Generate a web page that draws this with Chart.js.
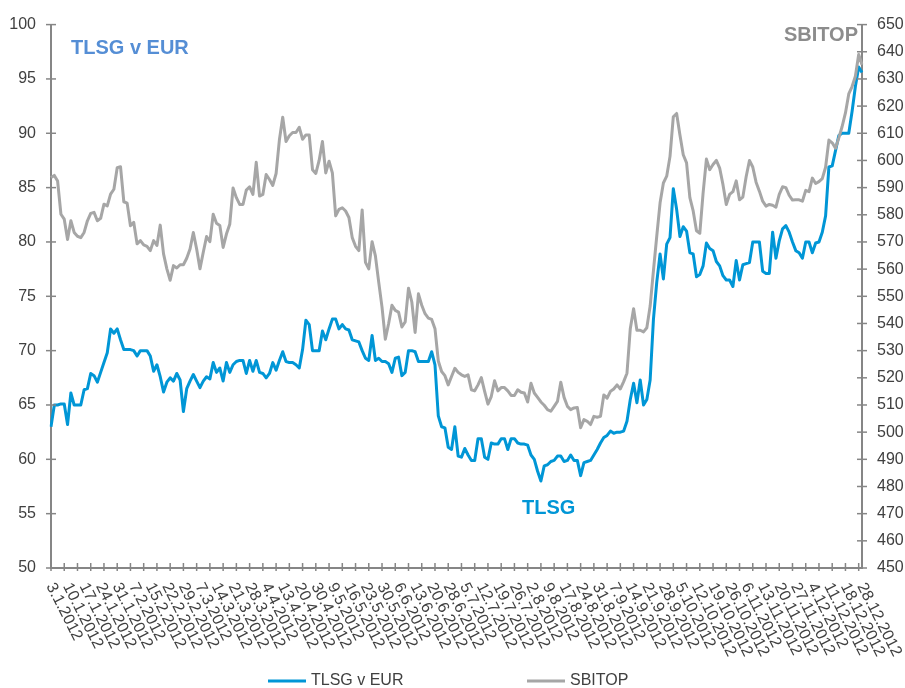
<!DOCTYPE html>
<html>
<head>
<meta charset="utf-8">
<title>TLSG v EUR in SBITOP 2012</title>
<script src="https://cdn.jsdelivr.net/npm/chart.js@4.4.1/dist/chart.umd.min.js"></script>
<style>
  body { margin: 0; background: #fff; }
  #graf { display: block; }
</style>
</head>
<body>
<canvas id="graf" width="905" height="688"></canvas>
<script>
// datumi na os x (vsak 5. trgovalni dan)
let tedni = [
    "3.1.2012", "10.1.2012", "17.1.2012", "24.1.2012", "31.1.2012", "7.2.2012", "15.2.2012", "22.2.2012",
    "29.2.2012", "7.3.2012", "14.3.2012", "21.3.2012", "28.3.2012", "4.4.2012", "13.4.2012", "20.4.2012",
    "30.4.2012", "9.5.2012", "16.5.2012", "23.5.2012", "30.5.2012", "6.6.2012", "13.6.2012", "20.6.2012",
    "28.6.2012", "5.7.2012", "12.7.2012", "19.7.2012", "26.7.2012", "2.8.2012", "9.8.2012", "17.8.2012",
    "24.8.2012", "31.8.2012", "7.9.2012", "14.9.2012", "21.9.2012", "28.9.2012", "5.10.2012", "12.10.2012",
    "19.10.2012", "26.10.2012", "6.11.2012", "13.11.2012", "20.11.2012", "27.11.2012", "4.12.2012", "11.12.2012",
    "18.12.2012", "28.12.2012"
];

// TLSG v EUR, dnevni tecaj
let tlsg = [
    63.0, 65.0, 65.0, 65.1, 65.1, 63.2, 66.1, 65.0, 65.0, 65.0,
    66.4, 66.5, 67.9, 67.7, 67.1, 68.0, 68.9, 69.8, 72.0, 71.6,
    72.0, 71.0, 70.1, 70.1, 70.1, 70.0, 69.5, 70.0, 70.0, 70.0,
    69.5, 68.1, 68.7, 67.6, 66.2, 67.1, 67.5, 67.2, 67.9, 67.3,
    64.4, 66.5, 67.2, 67.8, 67.2, 66.6, 67.2, 67.6, 67.4, 68.9,
    68.0, 68.4, 67.2, 68.9, 68.0, 68.7, 69.0, 69.1, 69.1, 67.9,
    69.1, 68.1, 69.1, 68.0, 67.9, 67.5, 67.9, 68.9, 68.2, 69.1,
    69.9, 69.0, 68.9, 68.9, 68.7, 68.4, 70.1, 72.8, 72.4, 70.0,
    70.0, 70.0, 71.8, 71.0, 72.0, 72.9, 72.9, 72.0, 72.4, 72.0,
    71.9, 71.0, 70.9, 70.8, 70.0, 69.3, 69.1, 71.4, 69.1, 69.3,
    69.0, 69.0, 68.8, 68.0, 69.3, 69.4, 67.7, 68.0, 70.0, 70.0,
    69.9, 69.0, 69.0, 69.0, 69.0, 69.9, 68.7, 64.0, 63.0, 62.9,
    61.1, 60.9, 63.0, 60.3, 60.2, 61.0, 60.4, 59.9, 59.9, 61.9,
    61.9, 60.2, 60.0, 61.5, 61.4, 61.4, 61.9, 61.9, 60.9, 61.9,
    61.9, 61.5, 61.4, 61.4, 61.3, 60.4, 60.0, 58.9, 58.0, 59.4,
    59.5, 59.8, 59.9, 60.3, 60.3, 59.8, 59.9, 60.4, 59.9, 59.9,
    58.5, 59.7, 59.8, 59.9, 60.4, 60.9, 61.5, 62.0, 62.2, 62.6,
    62.4, 62.5, 62.5, 62.6, 63.5, 65.5, 67.0, 65.2, 67.3, 65.0,
    65.5, 67.3, 72.9, 76.3, 78.9, 76.6, 79.8, 80.4, 84.9, 83.0,
    80.5, 81.4, 81.0, 79.0, 78.9, 76.8, 77.0, 77.8, 79.9, 79.4,
    79.2, 78.2, 77.8, 76.9, 76.5, 76.5, 75.9, 78.3, 76.5, 77.9,
    78.0, 78.1, 80.0, 80.0, 80.0, 77.3, 77.1, 77.1, 80.9, 78.5,
    80.1, 81.2, 81.5, 80.9, 80.0, 79.2, 79.0, 78.5, 80.0, 80.0,
    79.0, 79.9, 80.0, 80.9, 82.4, 86.9, 87.0, 88.4, 89.8, 90.0,
    90.0, 90.0, 92.0, 94.3, 96.1, 95.6
];

// SBITOP, desna os
let sbitop = [
    593.7, 594.5, 592.4, 580.2, 578.4, 570.9, 577.8, 573.5, 572.1, 571.6,
    573.5, 577.8, 580.5, 580.9, 577.8, 578.7, 583.9, 583.3, 587.6, 589.4,
    597.3, 597.7, 584.8, 584.3, 576.0, 577.2, 569.3, 570.5, 568.9, 568.4,
    566.8, 570.5, 568.7, 576.2, 565.6, 560.1, 555.9, 561.3, 560.4, 561.6,
    561.6, 564.0, 567.4, 573.5, 567.4, 560.1, 566.2, 572.0, 570.1, 580.2,
    576.9, 576.1, 568.0, 572.9, 576.5, 589.9, 586.3, 583.8, 583.8, 589.1,
    590.3, 587.5, 599.3, 586.9, 587.5, 594.8, 593.0, 590.8, 595.2, 607.6,
    615.9, 607.0, 609.1, 610.3, 610.3, 612.2, 607.8, 609.4, 609.4, 596.6,
    595.2, 600.0, 607.0, 595.4, 599.7, 595.4, 579.6, 582.0, 582.6, 581.4,
    579.0, 571.6, 568.4, 566.8, 581.8, 562.5, 560.1, 570.1, 564.9, 555.2,
    546.0, 534.2, 540.0, 546.7, 544.8, 544.2, 538.7, 540.6, 553.0, 547.9,
    536.7, 550.9, 546.7, 543.6, 542.0, 541.5, 538.1, 526.2, 522.3, 520.8,
    517.4, 520.5, 523.5, 522.0, 521.1, 520.5, 521.1, 515.6, 515.2, 517.4,
    520.1, 515.0, 510.3, 513.1, 518.9, 515.2, 516.4, 516.4, 515.2, 513.5,
    513.5, 515.6, 514.7, 514.4, 511.1, 518.0, 514.4, 512.8, 511.1, 509.9,
    508.3, 507.7, 509.5, 511.3, 518.4, 512.8, 509.5, 508.3, 508.9, 509.1,
    501.6, 504.6, 504.0, 502.8, 505.8, 505.5, 505.8, 513.7, 512.5, 515.0,
    515.9, 517.4, 515.9, 518.6, 521.7, 538.1, 545.4, 537.5, 537.5, 536.9,
    538.4, 546.4, 559.5, 572.2, 584.4, 591.7, 594.2, 601.5, 616.1, 617.3,
    609.4, 602.1, 599.1, 586.3, 581.4, 574.1, 573.2, 588.1, 600.5, 596.6,
    598.5, 600.0, 597.2, 591.1, 583.8, 587.5, 588.5, 592.5, 585.5, 586.5,
    594.0, 600.0, 597.6, 592.0, 588.7, 585.0, 583.2, 583.8, 583.5, 582.8,
    587.5, 590.3, 590.0, 587.2, 585.4, 585.5, 585.5, 585.0, 589.0, 588.5,
    593.5, 591.5, 592.2, 593.3, 597.5, 607.5, 606.5, 604.5, 608.3, 612.5,
    617.5, 624.5, 627.2, 631.0, 639.0, 635.2
];

let modra = "#0096d6";
let siva = "#a6a6a6";
let barvaOsi = "#868686";
let barvaBesedila = "#404040";
let pisava = '"Liberation Sans", Arial, sans-serif';

Chart.defaults.font.family = pisava;

// vsak trgovalni dan dobi svojo kategorijo, datum samo vsak 5.
let dnevi = tlsg.map((v, i) => i % 5 == 0 ? tedni[i / 5] : "");

// crtice na oseh, datumi, napisi in legenda
let dodatki = {
    id: "dodatki",
    afterDraw(chart) {
        let ctx = chart.ctx;
        let osX = chart.scales.x;
        let levo = chart.scales.y;
        let desno = chart.scales.y1;
        let area = chart.chartArea;

        ctx.save();
        ctx.strokeStyle = barvaOsi;
        ctx.lineWidth = 1.5;

        levo.ticks.forEach((t, i) => {
            let py = levo.getPixelForTick(i);
            ctx.beginPath();
            ctx.moveTo(area.left - 5, py);
            ctx.lineTo(area.left + 5, py);
            ctx.stroke();
        });
        desno.ticks.forEach((t, i) => {
            let py = desno.getPixelForTick(i);
            ctx.beginPath();
            ctx.moveTo(area.right - 5, py);
            ctx.lineTo(area.right + 5, py);
            ctx.stroke();
        });
        for (let i = 0; i < dnevi.length; i += 4) {
            let px = osX.getPixelForValue(i);
            ctx.beginPath();
            ctx.moveTo(px, area.bottom - 5);
            ctx.lineTo(px, area.bottom + 3);
            ctx.stroke();
        }

        // datumi, zasukani
        ctx.fillStyle = barvaBesedila;
        ctx.font = "16px " + pisava;
        ctx.textAlign = "left";
        ctx.textBaseline = "middle";
        dnevi.forEach((d, i) => {
            if (d == "") return;
            ctx.save();
            ctx.translate(osX.getPixelForValue(i) - 1, area.bottom + 16);
            ctx.rotate(63 * Math.PI / 180);
            ctx.fillText(d, 0, 0);
            ctx.restore();
        });

        // napisi v grafu
        ctx.font = "bold 20px " + pisava;
        ctx.textBaseline = "alphabetic";
        ctx.fillStyle = "#558ed5";
        ctx.fillText("TLSG v EUR", 71, 54);
        ctx.fillStyle = modra;
        ctx.fillText("TLSG", 522, 514);
        ctx.fillStyle = "#8c8c8c";
        ctx.textAlign = "right";
        ctx.fillText("SBITOP", 858, 41);

        // legenda
        let legenda = [
            { x: 268, ds: chart.data.datasets[0] },
            { x: 527, ds: chart.data.datasets[1] }
        ];
        ctx.font = "16px " + pisava;
        ctx.textAlign = "left";
        ctx.textBaseline = "middle";
        legenda.forEach(el => {
            ctx.strokeStyle = el.ds.borderColor;
            ctx.lineWidth = 3;
            ctx.beginPath();
            ctx.moveTo(el.x, 681);
            ctx.lineTo(el.x + 38, 681);
            ctx.stroke();
            ctx.fillStyle = barvaBesedila;
            ctx.fillText(el.ds.label, el.x + 43, 681);
        });
        ctx.restore();
    }
};

let graf = new Chart(document.getElementById("graf"), {
    type: "line",
    data: {
        labels: dnevi,
        datasets: [
            {
                label: "TLSG v EUR",
                data: tlsg,
                yAxisID: "y",
                borderColor: modra,
                borderWidth: 3,
                pointRadius: 0,
                tension: 0,
                borderJoinStyle: "round",
                order: 1
            },
            {
                label: "SBITOP",
                data: sbitop,
                yAxisID: "y1",
                borderColor: siva,
                borderWidth: 3,
                pointRadius: 0,
                tension: 0,
                borderJoinStyle: "round",
                order: 0
            }
        ]
    },
    options: {
        responsive: false,
        animation: false,
        layout: { padding: { top: 21, left: 0, right: 0, bottom: 0 } },
        plugins: {
            legend: { display: false },
            tooltip: { enabled: false }
        },
        scales: {
            x: {
                type: "category",
                offset: false,
                grid: { display: false, drawTicks: false },
                border: { color: barvaOsi, width: 2 },
                ticks: { display: false },
                afterFit: s => { s.height = 120; }
            },
            y: {
                position: "left",
                min: 50,
                max: 100,
                ticks: { stepSize: 5, color: barvaBesedila, font: { size: 16 }, padding: 15 },
                grid: { display: false, drawTicks: false },
                border: { color: barvaOsi, width: 2 },
                afterFit: s => { s.width = 51; }
            },
            y1: {
                position: "right",
                min: 450,
                max: 650,
                ticks: { stepSize: 10, color: barvaBesedila, font: { size: 16 }, padding: 15 },
                grid: { display: false, drawTicks: false },
                border: { color: barvaOsi, width: 2 },
                afterFit: s => { s.width = 43; }
            }
        }
    },
    plugins: [dodatki]
});
</script>
</body>
</html>
